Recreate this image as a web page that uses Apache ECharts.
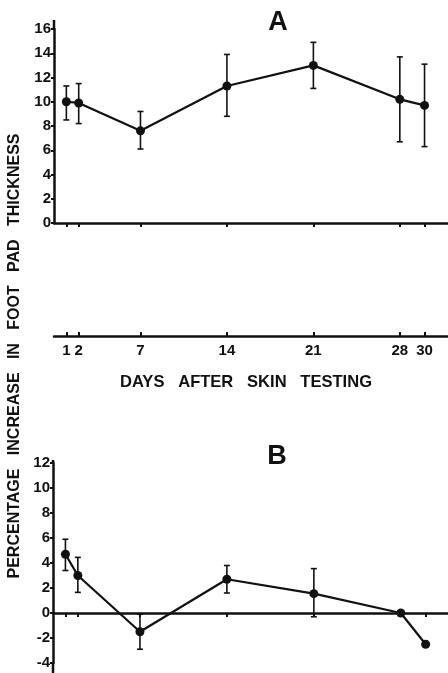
<!DOCTYPE html>
<html>
<head>
<meta charset="utf-8">
<script src="https://cdn.jsdelivr.net/npm/echarts@6/dist/echarts.min.js"></script>
<style>
  html, body { margin: 0; padding: 0; background: #fff; }
  #c { width: 448px; height: 673px; }
</style>
</head>
<body>
<div id="c"></div>
<script>
// Days after skin testing
const days = [1, 2, 7, 14, 21, 28, 30];

// Panel A: percentage increase in foot pad thickness (mean, lower and upper error)
const thicknessA = [10.0, 9.9, 7.6, 11.3, 13.0, 10.2, 9.7];
const thicknessALow = [8.5, 8.2, 6.1, 8.8, 11.1, 6.7, 6.3];
const thicknessAHigh = [11.3, 11.5, 9.2, 13.9, 14.9, 13.7, 13.1];

// Panel B
const percentB = [4.7, 3.0, -1.5, 2.7, 1.55, 0.0, -2.5];
const percentBLow = [3.4, 1.65, -2.9, 1.6, -0.3, null, null];
const percentBHigh = [5.9, 4.45, -0.1, 3.8, 3.55, null, null];

const yTitle = 'PERCENTAGE   INCREASE   IN   FOOT   PAD   THICKNESS';
const xTitle = 'DAYS   AFTER   SKIN   TESTING';

const FONT = '"Liberation Sans", Arial, sans-serif';
const INK = '#111';

const chart = echarts.init(document.getElementById('c'), null, { renderer: 'canvas' });

function measure(text, size) {
  const ctx = document.createElement('canvas').getContext('2d');
  ctx.font = 'bold ' + size + 'px ' + FONT;
  return ctx.measureText(text).width;
}

function errorBars(lo, hi, axisIndex) {
  const data = [];
  days.forEach((d, i) => { if (lo[i] != null) data.push([d, lo[i], hi[i]]); });
  return {
    type: 'custom',
    xAxisIndex: axisIndex,
    yAxisIndex: axisIndex,
    clip: false,
    z: 3,
    encode: { x: 0, y: [1, 2] },
    data: data,
    renderItem(params, api) {
      const x = api.value(0);
      const p1 = api.coord([x, api.value(1)]);
      const p2 = api.coord([x, api.value(2)]);
      const w = 3;
      const st = { stroke: INK, lineWidth: 1.6 };
      return {
        type: 'group',
        children: [
          { type: 'line', shape: { x1: p1[0], y1: p1[1], x2: p2[0], y2: p2[1] }, style: st },
          { type: 'line', shape: { x1: p1[0] - w, y1: p1[1], x2: p1[0] + w, y2: p1[1] }, style: st },
          { type: 'line', shape: { x1: p2[0] - w, y1: p2[1], x2: p2[0] + w, y2: p2[1] }, style: st }
        ]
      };
    }
  };
}

function meanLine(values, axisIndex) {
  return {
    type: 'line',
    xAxisIndex: axisIndex,
    yAxisIndex: axisIndex,
    data: days.map((d, i) => [d, values[i]]),
    symbol: 'circle',
    symbolSize: 9,
    lineStyle: { color: INK, width: 2.2 },
    itemStyle: { color: INK },
    z: 4,
    animation: false
  };
}

const axisLine = { show: true, onZero: true, lineStyle: { color: INK, width: 2.5 } };
const yLabel = { color: INK, fontFamily: FONT, fontWeight: 'bold', fontSize: 15, margin: 3 };

chart.setOption({
  animation: false,
  backgroundColor: '#fff',
  grid: [
    { left: 54, right: 0, top: 29, height: 194 },
    { left: 54, right: 0, top: 335, height: 1 },
    { left: 53, right: 0, top: 463, height: 200 }
  ],
  xAxis: [
    {
      gridIndex: 0, type: 'value', min: 0, max: 31.9,
      axisLine: axisLine,
      axisTick: { show: true, customValues: days, length: 4, lineStyle: { color: INK, width: 2 } },
      axisLabel: { show: false },
      splitLine: { show: false }
    },
    {
      gridIndex: 1, type: 'value', min: 0, max: 31.9,
      axisLine: axisLine,
      axisTick: { show: true, inside: true, customValues: days, length: 4, lineStyle: { color: INK, width: 2 } },
      axisLabel: { show: true, customValues: days, color: INK, fontFamily: FONT, fontWeight: 'bold', fontSize: 15, margin: 7 },
      splitLine: { show: false }
    },
    {
      gridIndex: 2, type: 'value', min: 0, max: 31.8,
      axisLine: axisLine,
      axisTick: { show: true, customValues: days, length: 4, lineStyle: { color: INK, width: 2 } },
      axisLabel: { show: false },
      splitLine: { show: false }
    }
  ],
  yAxis: [
    {
      gridIndex: 0, type: 'value', min: 0, max: 16, interval: 2,
      axisLine: axisLine,
      axisTick: { show: true, length: 3, lineStyle: { color: INK, width: 2 } },
      axisLabel: yLabel,
      splitLine: { show: false }
    },
    { gridIndex: 1, type: 'value', min: 0, max: 1, show: false },
    {
      gridIndex: 2, type: 'value', min: -4, max: 12, interval: 2,
      axisLine: axisLine,
      axisTick: { show: true, length: 3, lineStyle: { color: INK, width: 2 } },
      axisLabel: yLabel,
      splitLine: { show: false }
    }
  ],
  series: [
    errorBars(thicknessALow, thicknessAHigh, 0),
    meanLine(thicknessA, 0),
    errorBars(percentBLow, percentBHigh, 2),
    meanLine(percentB, 2)
  ]
});

// Axis-line overhangs, panel letters and the two axis titles
const topA = chart.convertToPixel({ xAxisIndex: 0, yAxisIndex: 0 }, [0, 16]);
const topB = chart.convertToPixel({ xAxisIndex: 2, yAxisIndex: 2 }, [0, 12]);
const botB = chart.convertToPixel({ xAxisIndex: 2, yAxisIndex: 2 }, [0, -4]);

const ySize = 17, xSize = 17;
const yScale = 445 / measure(yTitle, ySize);
const xScale = 252 / measure(xTitle, xSize);

chart.setOption({
  graphic: [
    { type: 'line', shape: { x1: topA[0], y1: topA[1], x2: topA[0], y2: topA[1] - 9 }, style: { stroke: INK, lineWidth: 2.5 } },
    { type: 'line', shape: { x1: topB[0], y1: topB[1], x2: topB[0], y2: topB[1] - 3 }, style: { stroke: INK, lineWidth: 2.5 } },
    { type: 'line', shape: { x1: botB[0], y1: botB[1], x2: botB[0], y2: 673 }, style: { stroke: INK, lineWidth: 2.5 } },
    { type: 'text', x: 278, y: 23, style: { text: 'A', fill: INK, font: 'bold 27px ' + FONT, textAlign: 'center', textVerticalAlign: 'middle' } },
    { type: 'text', x: 277, y: 457, style: { text: 'B', fill: INK, font: 'bold 27px ' + FONT, textAlign: 'center', textVerticalAlign: 'middle' } },
    {
      type: 'text', x: 14, y: 356, rotation: Math.PI / 2, scaleX: yScale,
      style: { text: yTitle, fill: INK, font: 'bold ' + ySize + 'px ' + FONT, textAlign: 'center', textVerticalAlign: 'middle' }
    },
    {
      type: 'text', x: 246, y: 382, scaleX: xScale,
      style: { text: xTitle, fill: INK, font: 'bold ' + xSize + 'px ' + FONT, textAlign: 'center', textVerticalAlign: 'middle' }
    }
  ]
});
</script>
</body>
</html>
